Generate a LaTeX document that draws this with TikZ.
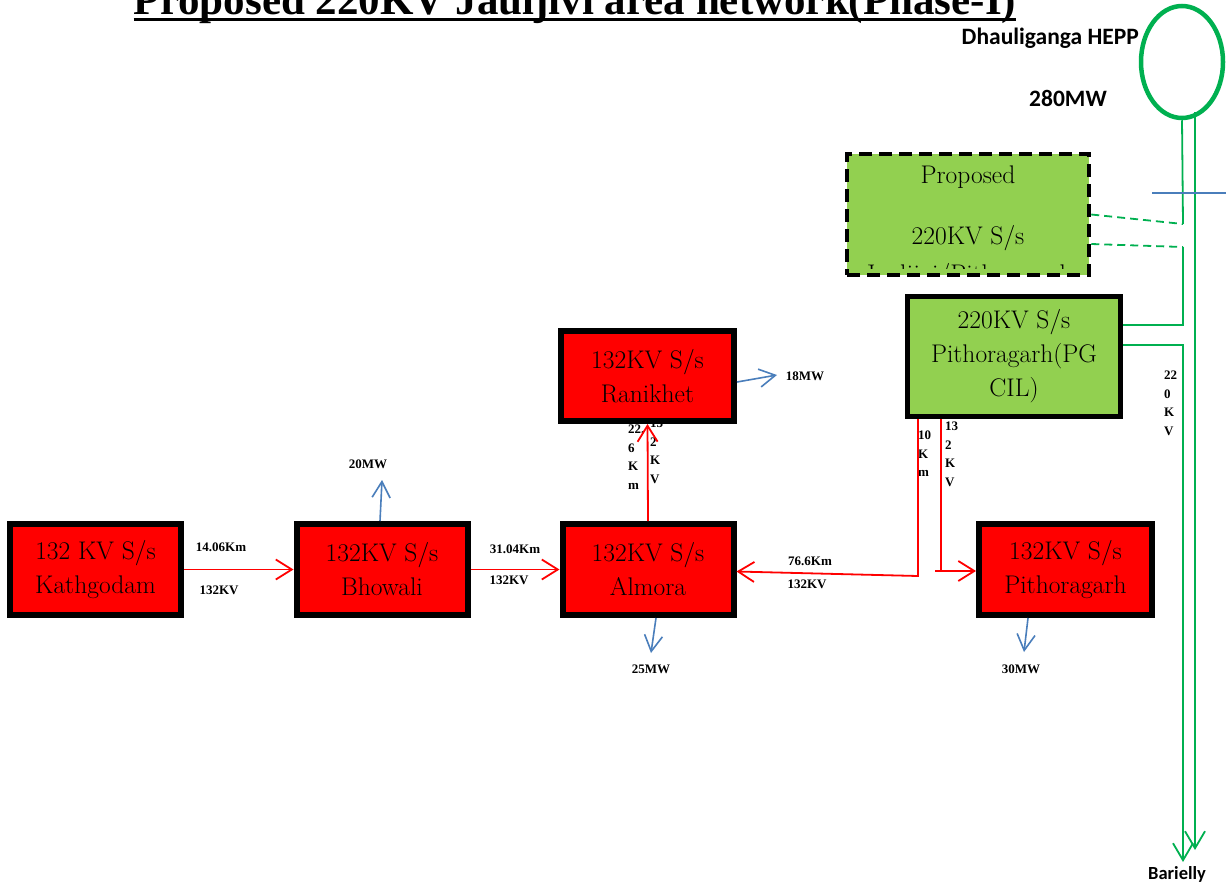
\documentclass[tikz,border=0pt]{standalone}
\usepackage{fontspec}
\newfontfamily\titlefont{Liberation Serif}
\newfontfamily\calib{Carlito}
\usetikzlibrary{arrows.meta,shapes.geometric}
\definecolor{pgreen}{HTML}{00B050}
\definecolor{lgreen}{HTML}{92D050}
\definecolor{lblue}{HTML}{4A7EBB}
\definecolor{pred}{HTML}{FF0000}
\begin{document}
\begin{tikzpicture}[x=1pt,y=-1pt,
  boxtext/.style={font=\fontsize{25.5}{34}\selectfont},
  rbox/.style={draw=black,line width=6pt,fill=pred,minimum width=171pt,minimum height=91pt,inner sep=0pt,align=center,boxtext},
  gbox/.style={draw=black,line width=5pt,fill=lgreen,minimum width=213pt,minimum height=120pt,inner sep=0pt,align=center,boxtext},
  pbox/.style={draw=black,line width=4.5pt,dash pattern=on 13pt off 7pt,fill=lgreen,minimum width=242pt,minimum height=121pt,inner sep=0pt},
  rarr/.style={draw=pred,line width=1.8pt,-{Straight Barb[length=16pt,width=20pt]}},
  rln/.style={draw=pred,line width=1.8pt},
  barr/.style={draw=lblue,line width=1.6pt,-{Straight Barb[length=16pt,width=18pt]}},
  garr/.style={draw=pgreen,line width=1.8pt,-{Straight Barb[length=17pt,width=20pt]}},
  gln/.style={draw=pgreen,line width=1.8pt},
  gdash/.style={draw=pgreen,line width=1.8pt,dash pattern=on 8pt off 5pt},
  lbl/.style={font=\titlefont\bfseries\fontsize{13}{18}\selectfont,inner sep=0pt},
  vlbl/.style={font=\titlefont\bfseries\fontsize{13}{18.4}\selectfont,inner sep=0pt,align=left,anchor=north west},
  slbl/.style={inner sep=0pt}]
\clip (0,0) rectangle (1228,886);
\fill[white] (0,0) rectangle (1228,886);

% title
\node[inner sep=0pt,anchor=base,font=\titlefont\bfseries\fontsize{43}{43}\selectfont] (title) at (575,14) {Proposed 220KV Jauljivi area network(Phase-I)};
\draw[line width=3pt] ([yshift=-5pt]title.base west) -- ([yshift=-5pt]title.base east);

% vertical labels (drawn before boxes)
\node[vlbl] (v226) at (628,425) {22.\\6\\K\\m};
\node[vlbl] (v132a) at (650,419) {13\\2\\K\\V};
\node[vlbl] (v10) at (918,431) {10\\K\\m};
\node[vlbl] (v132b) at (945,422) {13\\2\\K\\V};
\node[vlbl] (v220) at (1164,371) {22\\0\\K\\V};

% HEPP
\node[draw=pgreen,line width=4.5pt,ellipse,minimum width=82pt,minimum height=112pt,inner sep=0pt] (hepp) at (1182,62) {};
\node[slbl,anchor=east,font=\calib\bfseries\fontsize{23.5}{24}\selectfont] (heppl) at (1139,38) {Dhauliganga HEPP};
\node[slbl,font=\calib\bfseries\fontsize{23.5}{24}\selectfont] (mw280) at (1068,98) {280MW};

% boxes
\node[rbox] (kath) at (95.5,569.5) {132 KV S/s\\Kathgodam};
\node[rbox] (bhow) at (382,569.5) {132KV S/s\\Bhowali};
\node[rbox] (alm) at (648,569.5) {132KV S/s\\Almora};
\node[rbox,minimum width=173pt] (p132) at (1065.5,569.5) {132KV S/s\\Pithoragarh};
\node[rbox,minimum width=173pt,minimum height=90pt] (ran) at (647.5,376) {132KV S/s\\Ranikhet};
\node[gbox] (pg) at (1014,356.5) {220KV S/s\\Pithoragarh(PG\\CIL)};
\node[pbox] (prop) at (968,214.5) {};
\begin{scope}
\clip (849,156) rectangle (1087,268.5);
\node[boxtext,inner sep=0pt] (propa) at (968,177) {Proposed};
\node[boxtext,inner sep=0pt] (propb) at (968,238) {220KV S/s};
\node[boxtext,inner sep=0pt,anchor=base] (propc) at (968,282) {Jauljivi/Pithoragarh};
\end{scope}

% red connectors
\draw[rarr] (kath.east) -- (bhow.west);
\draw[rarr] (bhow.east) -- (alm.west);
\draw[rarr] (alm.north) -- (ran.south);
\coordinate (c1) at (918,576);
\draw[rarr] (c1 |- pg.south) -- (c1) -- ([yshift=-2pt]alm.east);
\coordinate (c2) at (941,571);
\draw[rln] (c2 |- pg.south) -- (c2);
\draw[rarr] ([xshift=-6pt]c2) -- (p132.west |- c2);

% red labels
\node[lbl] (l1a) at (221,547) {14.06Km};
\node[lbl] (l1b) at (219,590) {132KV};
\node[lbl] (l2a) at (515,549) {31.04Km};
\node[lbl] (l2b) at (509,580) {132KV};
\node[lbl] (l3a) at (810,561) {76.6Km};
\node[lbl] (l3b) at (807,584) {132KV};

% blue loads
\node[lbl] (m20) at (368,464) {20MW};
\node[lbl] (m18) at (805,376) {18MW};
\node[lbl] (m25) at (651,669) {25MW};
\node[lbl] (m30) at (1021,669) {30MW};
\coordinate (t20) at (382,480);
\coordinate (t18) at (777,375);
\coordinate (t25) at (651,653);
\coordinate (t30) at (1024,652);
\draw[barr] ([xshift=-2pt]bhow.north) -- (t20);
\draw[barr] ([yshift=-6pt]ran.east) -- (t18);
\draw[barr] ([xshift=8pt]alm.south) -- (t25);
\draw[barr] ([xshift=-37.5pt]p132.south) -- (t30);

% green lines
\coordinate (j1) at (1183,224);
\coordinate (j2) at (1183,247);
\coordinate (j3) at (1183,325);
\coordinate (j4) at (1183,345);
\coordinate (bar1) at (1183,862);
\coordinate (bar2) at (1195,850);
\draw[gln] (hepp.south) -- (j1);
\draw[gdash] (prop.east) -- (j1);
\draw[gdash] ([yshift=-29.5pt]prop.east) -- (j2);
\draw[gln] (j2) -- (j3) -- (pg.east |- j3);
\draw[garr] (pg.east |- j4) -- (j4) -- (bar1);
\draw[garr] ([xshift=13pt,yshift=8pt]hepp.south) -- (bar2);
\coordinate (bl1) at (1152,193);
\coordinate (bl2) at (1226,193);
\draw[draw=lblue,line width=1.6pt] (bl1) -- (bl2);
\node[slbl,font=\calib\bfseries\fontsize{18.5}{19}\selectfont] (bar) at (1177,874) {Barielly};
\end{tikzpicture}
\end{document}
